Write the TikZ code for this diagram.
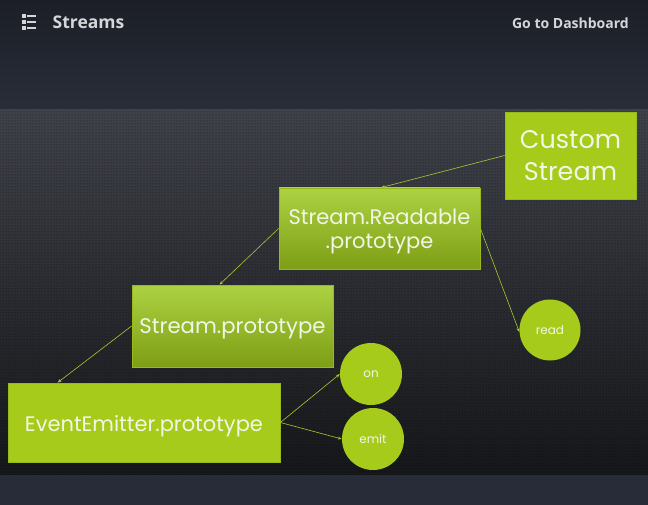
\documentclass[tikz,border=0pt]{standalone}
\usepackage{fontspec}
\setmainfont{Poppins}
\newfontfamily\hdrfont{Open Sans}
\usetikzlibrary{arrows.meta,patterns}
\definecolor{hdrtop}{HTML}{1C1F27}
\definecolor{hdrbot}{HTML}{282D38}
\definecolor{slidetop}{HTML}{40424A}
\definecolor{slidebot}{HTML}{15171A}
\definecolor{footbg}{HTML}{272C38}
\definecolor{limeflat}{HTML}{A6CB1B}
\definecolor{limetop}{HTML}{ACD242}
\definecolor{limebot}{HTML}{7E9E15}
\definecolor{limeedge}{HTML}{98BA1A}
\definecolor{linkcol}{HTML}{A9C92E}
\definecolor{hdrtext}{HTML}{D4D6DA}
\definecolor{boxtext}{HTML}{F2F6E6}
\newcommand{\lowerby}[2]{\raisebox{-#1}[\height][\depth]{#2}}
\tikzset{
  flatbox/.style={rectangle, fill=limeflat, draw=limeedge, line width=0.8pt, inner sep=0pt, align=center, text=boxtext},
  gradbox/.style={rectangle, top color=limetop, bottom color=limebot, draw=limeedge, line width=0.8pt, inner sep=0pt, align=center, text=boxtext},
  bubble/.style={circle, fill=limeflat, draw=none, inner sep=0pt, text=boxtext, font=\fontsize{12}{14}\selectfont},
  link/.style={draw=linkcol, line width=0.6pt, -{Stealth[length=4pt,width=3pt]}},
}
\begin{document}
\begin{tikzpicture}[x=1pt,y=-1pt]
\useasboundingbox (0,0) rectangle (648,505);
% header
\shade[top color=hdrtop, bottom color=hdrbot] (0,0) rectangle (648,110);
% slide area
\shade[top color=slidetop, bottom color=slidebot] (0,110) rectangle (648,475);
\fill[pattern=dots, pattern color=black, opacity=0.6] (0,110) rectangle (648,475);
% footer
\fill[footbg] (0,475) rectangle (648,505);
% list icon
\foreach \yy in {16,22,28}{
  \fill[hdrtext] (22,\yy-1.7) rectangle (25.8,\yy+1.7);
  \fill[hdrtext] (27.2,\yy-1.2) rectangle (35.5,\yy+1.2);
}
\node[anchor=west, text=hdrtext, font=\hdrfont\bfseries\fontsize{17.5}{20}\selectfont, inner sep=0pt] (title) at (52.5,22) {Streams};
\node[anchor=east, text=hdrtext, font=\hdrfont\bfseries\fontsize{14}{17}\selectfont, inner sep=0pt] (dash) at (629,23) {Go to Dashboard};
% boxes
\node[flatbox, minimum width=131pt, minimum height=87pt, font=\fontsize{25.5}{33}\selectfont] (cs) at (570.5,155.5) {\lowerby{2pt}{\begin{tabular}{@{}c@{}}Custom\\[-1pt]Stream\end{tabular}}};
\node[gradbox, minimum width=201pt, minimum height=81pt, font=\fontsize{21}{25}\selectfont] (rp) at (379.5,228.5) {\lowerby{3pt}{\begin{tabular}{@{}c@{}}Stream.Readable\\[-1pt].prototype\end{tabular}}};
\node[gradbox, minimum width=201pt, minimum height=82pt, font=\fontsize{21.2}{25}\selectfont] (sp) at (232.5,326) {\lowerby{3pt}{Stream.prototype}};
\node[flatbox, minimum width=272pt, minimum height=79pt, font=\fontsize{21}{25}\selectfont] (ee) at (144,422.5) {\lowerby{4pt}{EventEmitter.prototype}};
% circles
\node[bubble, minimum size=61pt] (read) at (550,330) {read};
\node[bubble, minimum size=62pt] (on) at (371,374) {on};
\node[bubble, minimum size=62pt] (emit) at (373,439) {emit};
% connectors
\draw[link] (cs.west) -- ([xshift=1.5pt]rp.north);
\draw[link] (rp.west) -- ([xshift=-13pt]sp.north);
\draw[link] (sp.west) -- ([xshift=50pt]ee.north west);
\draw[link] (rp.east) -- ([yshift=-2pt]read.west);
\draw[link] (ee.east) -- (on.west);
\draw[link] (ee.east) -- (emit.west);
\end{tikzpicture}
\end{document}
